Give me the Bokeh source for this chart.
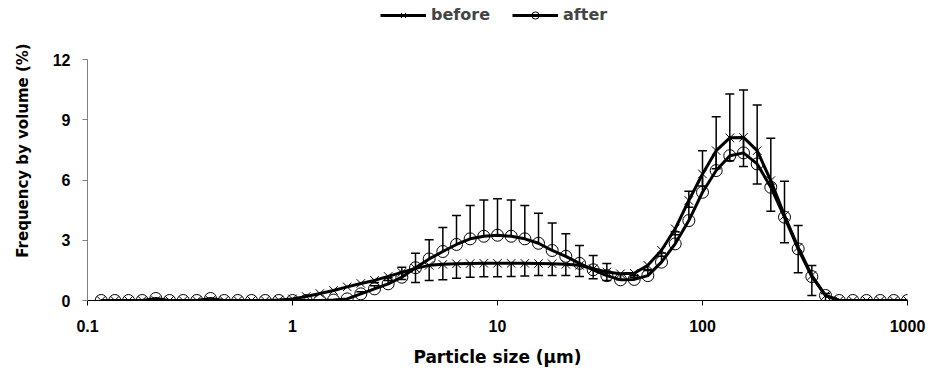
from bokeh.plotting import figure
from bokeh.models import FixedTicker, CustomJSTickFormatter, Legend, LegendItem, Range1d, ColumnDataSource
from bokeh.embed import file_html
from bokeh.resources import INLINE

# particle size classes (um)
size_um = [0.1166, 0.1359, 0.1585, 0.1848, 0.2154, 0.2512, 0.2929, 0.3415, 0.3981, 0.4642,
           0.5412, 0.6310, 0.7356, 0.8577, 1.0, 1.166, 1.359, 1.585, 1.848, 2.154,
           2.512, 2.929, 3.415, 3.981, 4.642, 5.412, 6.310, 7.356, 8.577, 10.0,
           11.66, 13.59, 15.85, 18.48, 21.54, 25.12, 29.29, 34.15, 39.81, 46.42,
           54.12, 63.10, 73.56, 85.77, 100.0, 116.6, 135.9, 158.5, 184.8, 215.4,
           251.2, 292.9, 341.5, 398.1, 464.2, 541.2, 631.0, 735.6, 857.7, 1000.0]

before = [0, 0, 0, 0, 0, 0, 0, 0, 0, 0, 0, 0, 0, 0.02,
          0.08, 0.2, 0.35, 0.5, 0.68, 0.85, 1.0, 1.2, 1.4, 1.6,
          1.75, 1.8, 1.83, 1.84, 1.85, 1.85, 1.85, 1.85, 1.84, 1.83,
          1.8, 1.75, 1.58, 1.42, 1.33, 1.36, 1.75, 2.5, 3.57, 4.98,
          6.3, 7.46, 8.1, 8.12, 7.46, 5.97, 4.23, 2.65, 1.24, 0.25,
          0, 0, 0, 0, 0, 0]

after = [0, 0, 0, 0, 0.1, 0, 0, 0, 0.1, 0, 0, 0, 0, 0,
         0, 0, 0, 0.02, 0.08, 0.33, 0.58, 0.83, 1.16, 1.63,
         2.07, 2.44, 2.79, 3.07, 3.2, 3.25, 3.2, 3.07, 2.85, 2.49,
         2.2, 1.85, 1.53, 1.24, 1.03, 1.05, 1.24, 1.91, 2.82, 3.98,
         5.39, 6.47, 7.21, 7.35, 6.8, 5.64, 4.15, 2.57, 1.19, 0.25,
         0, 0, 0, 0, 0, 0]

after_err_plus = [0, 0, 0, 0, 0, 0, 0, 0, 0, 0, 0, 0, 0, 0,
                  0, 0, 0, 0, 0, 0.1, 0.15, 0.3, 0.5, 0.72,
                  0.95, 1.2, 1.44, 1.66, 1.8, 1.82, 1.8, 1.66, 1.5, 1.37,
                  1.12, 0.89, 0.71, 0.6, 0.3, 0.2, 0.3, 0.45, 0.6, 1.46,
                  2.07, 2.68, 3.07, 3.13, 2.93, 2.44, 1.79, 1.16, 0.55, 0.1,
                  0, 0, 0, 0, 0, 0]

before_err_minus = [0, 0, 0, 0, 0, 0, 0, 0, 0, 0, 0, 0, 0, 0,
                    0, 0, 0, 0, 0, 0, 0.1, 0.2, 0.35, 0.7,
                    0.75, 0.77, 0.72, 0.68, 0.67, 0.67, 0.66, 0.63, 0.6, 0.58,
                    0.56, 0.55, 0.5, 0.42, 0.3, 0.2, 0.25, 0.3, 0.3, 0.34,
                    0.6, 0.9, 1.14, 1.45, 1.66, 1.53, 1.36, 1.27, 0.99, 0.35,
                    0, 0, 0, 0, 0, 0]

x_ticks = [0.1, 1, 10, 100, 1000]
y_ticks = [0, 3, 6, 9, 12]

FONT = "Liberation Sans"
WIDE = "DejaVu Sans"

# frame spans the full height; the y axis line is bounded to 0..12
p = figure(width=933, height=376, x_axis_type="log",
           x_range=Range1d(0.1, 1000), y_range=Range1d(0, 12 * 300 / 241),
           output_backend="svg", toolbar_location=None,
           min_border_left=87, min_border_right=26, min_border_top=0, min_border_bottom=76)
p.outline_line_color = None
p.grid.visible = False
p.background_fill_color = "white"

# error bars
ax, ay0, ay1 = [], [], []
for x, y, e in zip(size_um, after, after_err_plus):
    if e > 0:
        ax.append(x); ay0.append(y); ay1.append(y + e)
bx, by0, by1 = [], [], []
for x, y, e in zip(size_um, before, before_err_minus):
    if e > 0:
        bx.append(x); by0.append(y); by1.append(y - e)

p.segment(x0=ax, y0=ay0, x1=ax, y1=ay1, line_color="black", line_width=1.5)
p.scatter(x=ax, y=ay1, marker="dash", size=9, line_color="black", line_width=1.5)
p.segment(x0=bx, y0=by0, x1=bx, y1=by1, line_color="black", line_width=1.5)
p.scatter(x=bx, y=by1, marker="dash", size=9, line_color="black", line_width=1.5)

src = ColumnDataSource(dict(x=size_um, before=before, after=after))
lb = p.line("x", "before", source=src, line_color="black", line_width=3)
sb = p.scatter("x", "before", source=src, marker="x", size=12, line_color="black", line_width=1)
la = p.line("x", "after", source=src, line_color="black", line_width=3)
sa = p.scatter("x", "after", source=src, marker="circle", size=12, line_color="black",
               fill_alpha=0, line_width=1)

# axes
p.xaxis.ticker = FixedTicker(ticks=x_ticks)
p.xaxis.formatter = CustomJSTickFormatter(code="return tick.toString();")
p.yaxis.ticker = FixedTicker(ticks=y_ticks)
p.yaxis.bounds = (0, 12)
for a in (p.xaxis[0], p.yaxis[0]):
    a.major_label_text_font = FONT
    a.major_label_text_font_style = "bold"
    a.major_label_text_font_size = "16px"
    a.major_label_text_color = "black"
    a.axis_label_text_font_style = "bold"
    a.axis_label_text_color = "black"
    a.minor_tick_line_color = None
    a.major_tick_in = 0
    a.major_tick_out = 5
p.xaxis.axis_label = "Particle size (µm)"
p.yaxis.axis_label = "Frequency by volume (%)"
p.xaxis.axis_label_text_font = WIDE
p.xaxis.axis_label_text_font_size = "17px"
p.yaxis.axis_label_text_font = WIDE
p.yaxis.axis_label_text_font_size = "15px"
p.xaxis.axis_line_color = "black"
p.xaxis.major_tick_line_color = "black"
p.yaxis.axis_line_color = "#808080"
p.yaxis.major_tick_line_color = "#808080"
p.xaxis.major_label_standoff = 14
p.yaxis.major_label_standoff = 12
p.xaxis.axis_label_standoff = 12
p.yaxis.axis_label_standoff = 18

legend = Legend(items=[LegendItem(label="before", renderers=[lb, sb]),
                       LegendItem(label="after", renderers=[la, sa])],
                orientation="horizontal", location=(293, 276),
                glyph_width=46, glyph_height=18, label_standoff=5, spacing=22,
                padding=0, margin=0, border_line_color=None, background_fill_alpha=0,
                label_text_font=WIDE, label_text_font_style="bold",
                label_text_font_size="16px")
p.add_layout(legend, "center")

open("out.html", "w").write(file_html(p, INLINE))
